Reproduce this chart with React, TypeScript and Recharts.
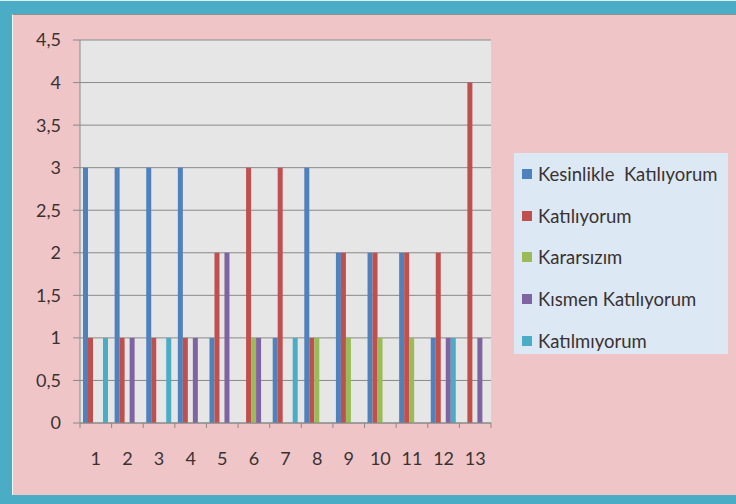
import { BarChart, Bar, XAxis, YAxis, CartesianGrid } from "recharts";

const categories = ["1", "2", "3", "4", "5", "6", "7", "8", "9", "10", "11", "12", "13"];

const seriesNames = [
  "Kesinlikle  Katılıyorum",
  "Katılıyorum",
  "Kararsızım",
  "Kısmen Katılıyorum",
  "Katılmıyorum",
];
const seriesColors = ["#4F81BD", "#C0504D", "#9BBB59", "#8064A2", "#4BACC6"];

const kesinlikle = [3, 3, 3, 3, 1, 0, 1, 3, 2, 2, 2, 1, 0];
const katiliyorum = [1, 1, 1, 1, 2, 3, 3, 1, 2, 2, 2, 2, 4];
const kararsizim = [0, 0, 0, 0, 0, 1, 0, 1, 1, 1, 1, 0, 0];
const kismen = [0, 1, 0, 1, 2, 1, 0, 0, 0, 0, 0, 1, 1];
const katilmiyorum = [1, 0, 1, 0, 0, 0, 1, 0, 0, 0, 0, 1, 0];

const yTicks = [0, 0.5, 1, 1.5, 2, 2.5, 3, 3.5, 4, 4.5];

const seriesValues = [kesinlikle, katiliyorum, kararsizim, kismen, katilmiyorum];

const data = categories.map((c, i) => {
  const row: Record<string, string | number> = { name: c };
  seriesValues.forEach((vals, s) => {
    row["s" + s] = vals[i];
  });
  return row;
});

const FONT = "Lato, 'Open Sans', sans-serif";
const TEXT = "#3a3232";
const AXIS = "#8a8a8a";

// category label + tick mark on the band edge (Excel style)
const XTick = (props: any) => {
  const { x, y, payload, index, width, visibleTicksCount } = props;
  const half = width / visibleTicksCount / 2;
  return (
    <g>
      <line x1={x - half} x2={x - half} y1={y} y2={y + 5} stroke={AXIS} />
      {index === visibleTicksCount - 1 && (
        <line x1={x + half} x2={x + half} y1={y} y2={y + 5} stroke={AXIS} />
      )}
      <text
        x={x}
        y={y + 37}
        textAnchor="middle"
        dominantBaseline="middle"
        fill={TEXT}
        fontSize={18}
        fontFamily={FONT}
      >
        {payload.value}
      </text>
    </g>
  );
};

export default function App() {
  return (
    <div
      style={{
        position: "absolute",
        left: 0,
        top: 0,
        width: 736,
        height: 504,
        background: "#4BACC6",
        overflow: "hidden",
      }}
    >
      {/* frame lines */}
      <div style={{ position: "absolute", left: 0, top: 0, width: 736, height: 1, background: "#dff0f4" }} />
      <div
        style={{
          position: "absolute",
          left: 12,
          top: 14,
          width: 724,
          height: 481,
          background: "#EFC5C7",
          borderLeft: "1.5px solid #f4f4f4",
          borderTop: "1.5px solid #8f8f8f",
          boxSizing: "border-box",
        }}
      />

      <div style={{ position: "absolute", left: 0, top: 0 }}>
        <BarChart
          width={736}
          height={504}
          data={data}
          margin={{ top: 40, right: 245, bottom: 0, left: 0 }}
          barGap={0}
          barSize={5}
        >
          <CartesianGrid vertical={false} stroke={AXIS} fill="#E6E6E6" fillOpacity={1} />
          <XAxis
            dataKey="name"
            height={81}
            tickLine={false}
            tickSize={0}
            tickMargin={0}
            stroke={AXIS}
            interval={0}
            tick={<XTick />}
          />
          <YAxis
            width={80}
            domain={[0, 4.5]}
            ticks={yTicks}
            interval={0}
            tickSize={7}
            tickMargin={12}
            stroke={AXIS}
            tick={{ fill: TEXT, fontSize: 18, fontFamily: FONT }}
            tickFormatter={(v: number) => String(v).replace(".", ",")}
          />
          {seriesNames.map((name, s) => (
            <Bar
              key={name}
              dataKey={"s" + s}
              name={name}
              fill={seriesColors[s]}
              isAnimationActive={false}
            />
          ))}
        </BarChart>
      </div>

      {/* legend */}
      <div
        style={{
          position: "absolute",
          left: 514,
          top: 153,
          width: 214,
          height: 201,
          background: "#DCE8F4",
          fontFamily: FONT,
          fontSize: 18.5,
          color: TEXT,
          boxSizing: "border-box",
        }}
      >
        {seriesNames.map((name, s) => (
          <div
            key={name}
            style={{ display: "flex", alignItems: "center", height: 41.7, paddingLeft: 8 }}
          >
            <span
              style={{
                display: "inline-block",
                width: 10,
                height: 10,
                background: seriesColors[s],
                marginRight: 6,
              }}
            />
            <span style={{ whiteSpace: "pre" }}>{name}</span>
          </div>
        ))}
      </div>
    </div>
  );
}
